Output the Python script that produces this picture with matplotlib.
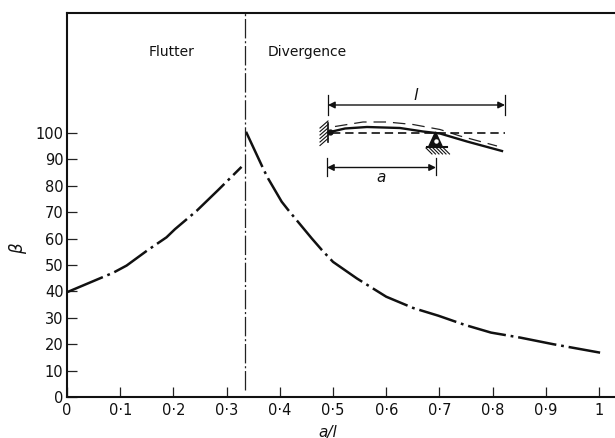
import matplotlib
matplotlib.use('Agg')
import matplotlib.pyplot as plt
import numpy as np

# values
flutter_x = [0, 0.087, 0.112, 0.15, 0.187, 0.203, 0.244, 0.284, 0.303, 0.328]
flutter_y = [39.7, 47.1, 49.8, 55.4, 60.5, 63.6, 70.6, 78.4, 82.2, 87.2]
diverg_x = [0.3365, 0.37, 0.378, 0.4035, 0.416, 0.46, 0.479, 0.5, 0.545, 0.6, 0.651, 0.698, 0.748, 0.797, 0.852, 0.914, 1.002]
diverg_y = [100.5, 86, 82.8, 74, 70.8, 60.1, 55.7, 51.2, 44.9, 38, 33.7, 30.8, 27.3, 24.4, 22.5, 20, 16.8]
boundary_x = [0.334, 0.334]
boundary_y = [2.6, 145.5]

x_ticks = [0, 0.1, 0.2, 0.3, 0.4, 0.5, 0.6, 0.7, 0.8, 0.9, 1]
x_labels = ['0', '0·1', '0·2', '0·3', '0·4', '0·5', '0·6', '0·7', '0·8', '0·9', '1']
y_ticks = [0, 10, 20, 30, 40, 50, 60, 70, 80, 90, 100]

# inset sketch, in picture pixels
beam_x = [330, 345, 367, 400, 423, 440, 467, 502]
beam_y = [132, 128.5, 127, 128, 131.5, 133.5, 141.5, 151]
deflect_x = [335, 363, 387, 413, 440, 460, 497]
deflect_y = [126.5, 122, 122, 124.5, 129.5, 136, 146]

W, H = 615, 438
plt.rcParams['lines.scale_dashes'] = False
plt.rcParams['font.family'] = 'DejaVu Sans'

fig = plt.figure(figsize=(W / 100, H / 100), dpi=100)
ax = fig.add_axes([67 / W, (H - 397) / H, (W - 67) / W, (397 - 13) / H])
ax.set_xlim(0, 1.03)
ax.set_ylim(0, 145.5)

chain = (0, (28, 3.5, 2, 3.5))
ax.plot(flutter_x, flutter_y, color='#111111', lw=1.8, linestyle=chain, clip_on=False)
ax.plot(diverg_x, diverg_y, color='#111111', lw=1.8, linestyle=chain)
ax.plot(boundary_x, boundary_y, color='#222222', lw=0.9, linestyle=(0, (14, 2, 1.5, 2)))

ax.spines['right'].set_visible(False)
for s in ['left', 'top', 'bottom']:
    ax.spines[s].set_linewidth(1.5)
    ax.spines[s].set_color('#111111')

ax.set_xticks(x_ticks)
ax.set_xticklabels(x_labels)
ax.set_yticks(y_ticks)
ax.tick_params(axis='both', direction='in', length=7.5, width=0.9, color='#222222',
               labelsize=10.5, labelcolor='#111111')
ax.tick_params(axis='x', pad=4)
ax.tick_params(axis='y', pad=2.5)

# overlay in pixel coordinates for the words and the sketch
ov = fig.add_axes([0, 0, 1, 1])
ov.set_xlim(0, W)
ov.set_ylim(H, 0)
ov.axis('off')
ov.patch.set_alpha(0)

ov.text(172, 52, 'Flutter', fontsize=10, ha='center', va='center', color='#111111')
ov.text(307.5, 52, 'Divergence', fontsize=10, ha='center', va='center', color='#111111')
ov.text(18, 249, 'β', fontsize=12, style='italic', rotation=90, ha='center', va='center', color='#111111')
ov.text(328, 432, 'a/l', fontsize=11, style='italic', ha='center', va='center', color='#111111')
ov.text(416, 95, 'l', fontsize=11.5, style='italic', ha='center', va='center', color='#111111')
ov.text(381, 177, 'a', fontsize=11, style='italic', ha='center', va='center', color='#111111')

# dimension arrows
arrow = dict(arrowstyle='<|-|>', color='#111111', lw=1.0, mutation_scale=10, shrinkA=0, shrinkB=0)
ov.annotate('', xy=(328, 105), xytext=(505, 105), arrowprops=arrow)
ov.annotate('', xy=(327, 167.5), xytext=(436, 167.5), arrowprops=arrow)
ov.plot([328, 328], [95, 115], color='#111111', lw=0.9)
ov.plot([505, 505], [95, 115], color='#111111', lw=0.9)
ov.plot([327, 327], [158, 176], color='#111111', lw=0.9)
ov.plot([436, 436], [158, 175], color='#111111', lw=0.9)

# beam and its deflected shapes
ov.plot(beam_x, beam_y, color='#111111', lw=1.7)
ov.plot(deflect_x, deflect_y, color='#222222', lw=0.9, linestyle=(0, (9, 5)))
ov.plot([332, 505], [132.5, 132.5], color='#111111', lw=1.2, linestyle=(0, (6, 3.5)))

# wall
ov.plot([328, 328], [123, 142], color='#111111', lw=1.2)
for y0 in np.arange(124, 143, 3.5):
    ov.plot([320, 328], [y0 + 4, y0 - 3], color='#111111', lw=0.8)
ov.plot([330], [132], marker='o', ms=3.5, color='#111111')

# pivot
ov.fill([435.5, 429, 442], [132, 146, 146], color='#111111')
ov.plot([435.5], [141], marker='o', ms=2.2, color='white')
ov.plot([427, 447], [147, 147], color='#111111', lw=1.5)
for x0 in np.arange(429, 449, 3.5):
    ov.plot([x0 - 3, x0 + 3], [148, 154], color='#111111', lw=0.8)

fig.savefig('out.png', dpi=100)
